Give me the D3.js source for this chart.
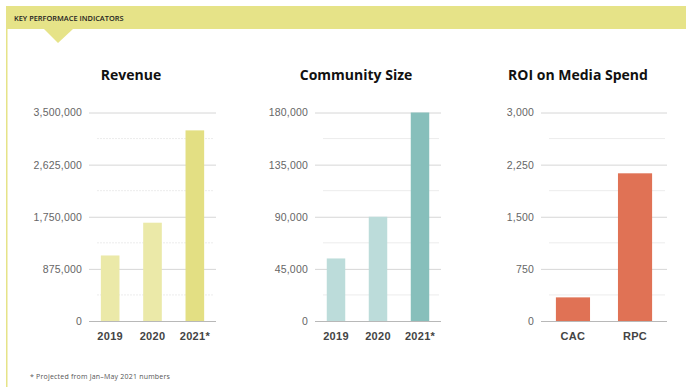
<!DOCTYPE html>
<html lang="en">
  <head>
    <meta charset="utf-8">
    <title>Key Performance Indicators</title>
    <script src="https://d3js.org/d3.v7.min.js"></script>
    <style>
      html, body {
        margin: 0;
        padding: 0;
        background: #fff;
      }
      svg {
        display: block;
        font-family: "Open Sans", sans-serif;
      }
      .title {
        font-weight: 700;
        font-size: 14px;
        fill: #111;
      }
      .ytick text {
        font-size: 10.5px;
        letter-spacing: 0.2px;
        fill: #666;
      }
      .xtick text {
        font-size: 11px;
        font-weight: 700;
        letter-spacing: 0.3px;
        fill: #444;
      }
    </style>
  </head>
  <body>
    <svg id="chart" width="686" height="387"></svg>

    <script>
      const years = ['2019', '2020', '2021*'];
      const revenue = [1100000, 1650000, 3200000];
      const revenueTicks = [0, 875000, 1750000, 2625000, 3500000];
      const community = [54000, 90000, 180000];
      const communityTicks = [0, 45000, 90000, 135000, 180000];
      const roiCats = ['CAC', 'RPC'];
      const roi = [340, 2125];
      const roiTicks = [0, 750, 1500, 2250, 3000];

      const svg = d3.select('#chart');
      const yellow = '#e6e388';

      // header band + pointer + left border
      svg.append('rect')
        .attr('x', 6).attr('y', 6)
        .attr('width', 680).attr('height', 23)
        .attr('fill', yellow);
      svg.append('path')
        .attr('d', 'M44,29 L73,29 L58,43 Z')
        .attr('fill', yellow);
      svg.append('rect')
        .attr('x', 6).attr('y', 29)
        .attr('width', 1.5).attr('height', 358)
        .attr('fill', yellow);
      svg.append('text')
        .attr('x', 14).attr('y', 20.5)
        .attr('font-size', 7.4)
        .attr('font-weight', 600)
        .attr('fill', '#222')
        .text('KEY PERFORMACE INDICATORS');

      const y0 = 321, y1 = 112.5;

      function panel(opts) {
        const g = svg.append('g');
        const y = d3.scaleLinear().domain([0, opts.ticks[opts.ticks.length - 1]]).range([y0, y1]);
        const x = d3.scaleBand().domain(opts.cats).range([opts.x0, opts.x1])
          .paddingInner(opts.pi).paddingOuter(opts.po);

        g.append('text')
          .attr('class', 'title')
          .attr('x', opts.tx).attr('y', 80)
          .attr('text-anchor', 'middle')
          .text(opts.title);

        // minor gridlines between ticks
        const minor = d3.pairs(opts.ticks).map(p => (p[0] + p[1]) / 2);
        g.selectAll('.minor').data(minor).enter().append('line')
          .attr('x1', opts.x0 + 8).attr('x2', opts.x1 - 2)
          .attr('y1', d => y(d)).attr('y2', d => y(d))
          .attr('stroke', '#ececec')
          .attr('stroke-dasharray', opts.dotted ? '2,1' : null)
          .attr('stroke-width', 1);

        const yAxis = d3.axisLeft(y).tickValues(opts.ticks)
          .tickSize(-(opts.x1 - opts.x0)).tickPadding(7)
          .tickFormat(d3.format(','));
        const ya = g.append('g')
          .attr('class', 'ytick')
          .attr('transform', 'translate(' + opts.x0 + ',0)')
          .call(yAxis);
        ya.select('.domain').remove();
        ya.selectAll('line')
          .attr('stroke', d => d === 0 ? '#b8b8b8' : '#d6d6d6');

        g.selectAll('.bar').data(opts.values).enter().append('rect')
          .attr('x', (d, i) => x(opts.cats[i]))
          .attr('width', x.bandwidth())
          .attr('y', d => y(d))
          .attr('height', d => y0 - y(d))
          .attr('fill', (d, i) => opts.colors[i]);

        const xa = g.append('g')
          .attr('class', 'xtick')
          .attr('transform', 'translate(0,' + y0 + ')')
          .call(d3.axisBottom(x).tickSize(0).tickPadding(11));
        xa.select('.domain').remove();
      }

      panel({
        title: 'Revenue', tx: 131, x0: 89, x1: 216, pi: 0.56, po: 0.28,
        cats: years, values: revenue, ticks: revenueTicks, dotted: true,
        colors: ['#ebe9a8', '#ebe9a8', '#e3df83']
      });
      panel({
        title: 'Community Size', tx: 356, x0: 315, x1: 441, pi: 0.56, po: 0.28,
        cats: years, values: community, ticks: communityTicks,
        colors: ['#bcdcda', '#bcdcda', '#87bfbb']
      });
      panel({
        title: 'ROI on Media Spend', tx: 578, x0: 541, x1: 667, pi: 0.45, po: 0.24,
        cats: roiCats, values: roi, ticks: roiTicks,
        colors: ['#e07255', '#e07255']
      });

      svg.append('text')
        .attr('x', 30).attr('y', 379)
        .attr('font-size', 7)
        .attr('letter-spacing', 0.2)
        .attr('fill', '#555')
        .text('* Projected from Jan\u2013May 2021 numbers');
    </script>
  </body>
</html>
